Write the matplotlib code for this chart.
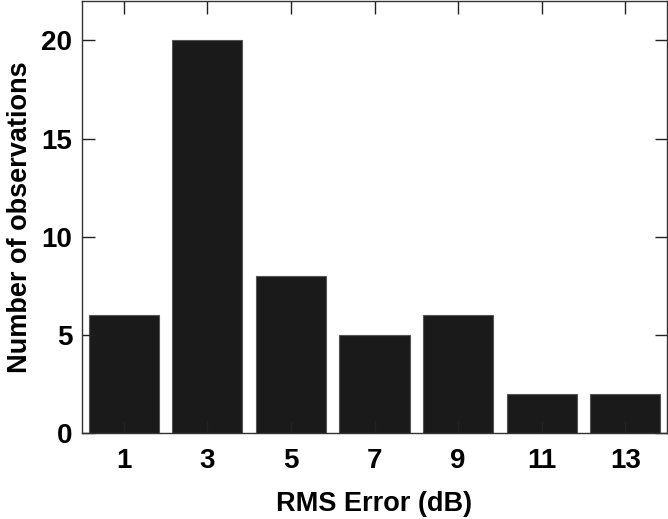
import numpy as np
import matplotlib
matplotlib.use('Agg')
import matplotlib.pyplot as plt

plt.rcParams['font.family'] = ['Liberation Sans', 'DejaVu Sans']

# 数据
rms_error = [1, 3, 5, 7, 9, 11, 13]
counts = [6, 20, 8, 5, 6, 2, 2]
y_ticks = [0, 5, 10, 15, 20]

fig = plt.figure(figsize=(6.68, 5.19), dpi=100)
ax = fig.add_axes([0.1228, 0.1657, 0.8757, 0.832])

ax.bar(rms_error, counts, width=1.68, color='#1a1a1a', edgecolor='#555555', linewidth=0.8)

ax.set_xlim(0, 14)
ax.set_ylim(0, 22)
ax.set_xticks(rms_error)
ax.set_yticks(y_ticks)
ax.tick_params(direction='in', length=9, width=1.0, top=True, right=True,
               labelsize=20, color='#222222')
ax.tick_params(axis='x', pad=11)
ax.tick_params(axis='y', pad=7)
for lbl in ax.get_xticklabels() + ax.get_yticklabels():
    lbl.set_fontweight('bold')
for s in ax.spines.values():
    s.set_linewidth(1.0)
    s.set_color('#333333')

ax.set_xlabel('RMS Error (dB)', fontsize=19.5, fontweight='bold', labelpad=12)
ax.set_ylabel('Number of observations', fontsize=19.5, fontweight='bold', labelpad=6)

fig.savefig('out.png', dpi=100)
